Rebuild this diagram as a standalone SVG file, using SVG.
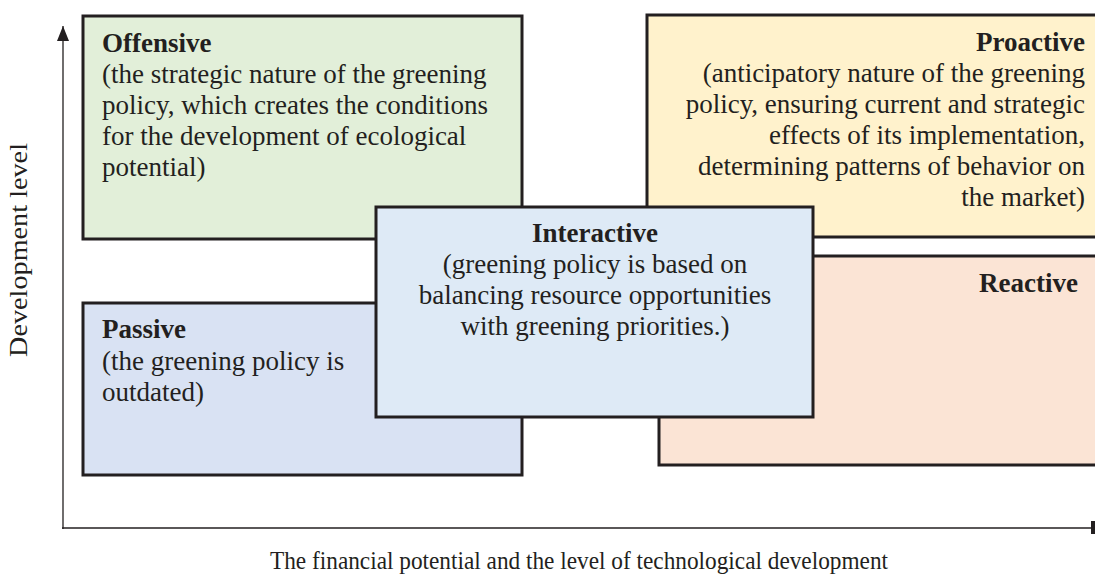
<svg xmlns="http://www.w3.org/2000/svg" width="1095" height="581" viewBox="0 0 1095 581">
<style>
.box{stroke:#231f20;stroke-width:3}
text{font-family:"Liberation Serif","Times New Roman",serif;font-size:27px;fill:#231f20}
.b{font-weight:bold}
.lab{font-size:26px}
.ax{stroke:#231f20;stroke-width:1.3;fill:none}
</style>
<defs>
<marker id="arr" markerWidth="12" markerHeight="15" refX="6" refY="0" orient="0" markerUnits="userSpaceOnUse" overflow="visible">
<path d="M0,15 L6,0 L12,15 Z" fill="#231f20"/>
</marker>
</defs>
<rect width="1095" height="581" fill="#fff"/>
<g id="connectors">
<line class="ax" x1="63" y1="529" x2="63" y2="26" marker-end="url(#arr)"/>
<line class="ax" x1="62" y1="528" x2="1092" y2="528"/>
<rect x="1091" y="521" width="4" height="13" fill="#231f20"/>
</g>
<g id="offensive">
<rect class="box" x="83" y="16" width="439" height="223" fill="#e2efd9"/>
<text x="102" y="52" class="b">Offensive</text>
<text x="102" y="83">(the strategic nature of the greening</text>
<text x="102" y="114">policy, which creates the conditions</text>
<text x="102" y="145">for the development of ecological</text>
<text x="102" y="176">potential)</text>
</g>
<g id="proactive">
<rect class="box" x="647" y="15" width="460" height="222" fill="#fff2cc"/>
<g text-anchor="end">
<text x="1085" y="51" class="b">Proactive</text>
<text x="1085" y="82">(anticipatory nature of the greening</text>
<text x="1085" y="113">policy, ensuring current and strategic</text>
<text x="1085" y="144">effects of its implementation,</text>
<text x="1085" y="175">determining patterns of behavior on</text>
<text x="1085" y="206">the market)</text>
</g>
</g>
<g id="passive">
<rect class="box" x="83" y="303" width="439" height="172" fill="#d9e2f3"/>
<text x="102" y="338" class="b">Passive</text>
<text x="102" y="370">(the greening policy is</text>
<text x="102" y="401">outdated)</text>
</g>
<g id="reactive">
<rect class="box" x="659" y="256" width="450" height="209" fill="#fbe4d5"/>
<text x="1078" y="292" class="b" text-anchor="end">Reactive</text>
</g>
<g id="interactive">
<rect class="box" x="376" y="207" width="437" height="210" fill="#deeaf6"/>
<g text-anchor="middle">
<text x="595" y="242" class="b">Interactive</text>
<text x="595" y="273">(greening policy is based on</text>
<text x="595" y="304">balancing resource opportunities</text>
<text x="595" y="335">with greening priorities.)</text>
</g>
</g>
<text class="lab" x="270" y="569" textLength="618" lengthAdjust="spacingAndGlyphs">The financial potential and the level of technological development</text>
<text class="lab" transform="translate(27,357) rotate(-90)" x="0" y="0" textLength="214" lengthAdjust="spacingAndGlyphs">Development level</text>
</svg>
